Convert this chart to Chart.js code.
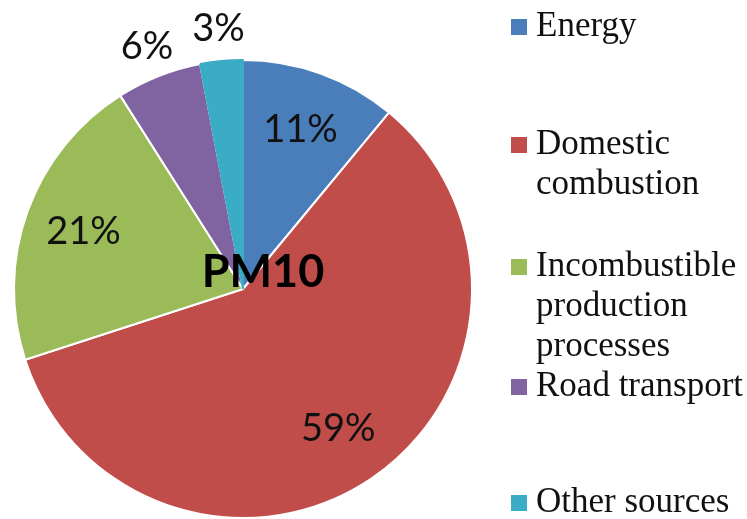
<!DOCTYPE html>
<html>
<head>
<meta charset="utf-8">
<script src="https://cdn.jsdelivr.net/npm/chart.js@4.4.0/dist/chart.umd.min.js"></script>
<style>
  html, body { margin: 0; padding: 0; width: 747px; height: 519px; overflow: hidden; background: #fff; }
  #wrap { position: absolute; left: 0; top: 0; width: 486px; height: 578px; }
  #legend { position: absolute; left: 0; top: 0; width: 747px; height: 519px; pointer-events: none; }
  .item { position: absolute; left: 511px; width: 236px; }
  .sw { position: absolute; left: 0; top: 14px; width: 16px; height: 16px; }
  .txt { position: absolute; left: 25px; top: 0; width: 214px; font-family: "Liberation Serif", "Times New Roman", serif;
         font-size: 35px; line-height: 40px; color: #111; white-space: normal; }
</style>
</head>
<body>
<div id="wrap"><canvas id="c" width="486" height="578"></canvas></div>
<div id="legend"></div>
<script>
// ---- data ----
const categories = ["Energy", "Domestic combustion", "Incombustible production processes", "Road transport", "Other sources"];
const shares = [11, 59, 21, 6, 3];
const sliceColors = ["#4a7ebb", "#c04d4a", "#9bbb59", "#8064a2", "#3aacc6"];
const chartTitle = "PM10";

// ---- layout (not data) ----
const legendTops = [5, 123, 245, 365, 481];

const labelPlugin = {
  id: 'pieLabels',
  afterDatasetsDraw(chart) {
    const ctx = chart.ctx;
    const meta = chart.getDatasetMeta(0);
    ctx.save();
    ctx.fillStyle = '#111';
    ctx.textAlign = 'center';
    ctx.textBaseline = 'middle';
    ctx.font = '38px Lato, "Open Sans", sans-serif';
    meta.data.forEach((arc, i) => {
      const p = arc.getProps(['x', 'y', 'startAngle', 'endAngle', 'outerRadius'], true);
      const mid = (p.startAngle + p.endAngle) / 2;
      const v = chart.data.datasets[0].data[i];
      const ratio = v < 10 ? 1.14 : 0.74;
      const px = p.x + Math.cos(mid) * p.outerRadius * ratio;
      const py = p.y + Math.sin(mid) * p.outerRadius * ratio;
      ctx.fillText(v + '%', px, py);
    });
    // centre title
    const a0 = meta.data[0].getProps(['x', 'y'], true);
    ctx.font = 'bold 45px Lato, "Open Sans", sans-serif';
    ctx.fillStyle = '#000';
    ctx.fillText(chartTitle, a0.x + 20, a0.y - 17);
    ctx.restore();
  }
};

new Chart(document.getElementById('c'), {
  type: 'pie',
  data: {
    labels: categories,
    datasets: [{
      data: shares,
      backgroundColor: sliceColors,
      borderColor: ['#ffffff', '#ffffff', '#ffffff', '#ffffff', sliceColors[4]],
      borderWidth: 2,
      radius: 229
    }]
  },
  options: {
    responsive: false,
    animation: false,
    layout: { padding: 0 },
    plugins: { legend: { display: false }, tooltip: { enabled: false } }
  },
  plugins: [labelPlugin]
});

// HTML legend built from the data arrays
const lg = document.getElementById('legend');
categories.forEach((name, i) => {
  const it = document.createElement('div');
  it.className = 'item';
  it.style.top = legendTops[i] + 'px';
  const sw = document.createElement('div');
  sw.className = 'sw';
  sw.style.background = sliceColors[i];
  const tx = document.createElement('div');
  tx.className = 'txt';
  tx.textContent = name;
  it.appendChild(sw);
  it.appendChild(tx);
  lg.appendChild(it);
});
</script>
</body>
</html>
